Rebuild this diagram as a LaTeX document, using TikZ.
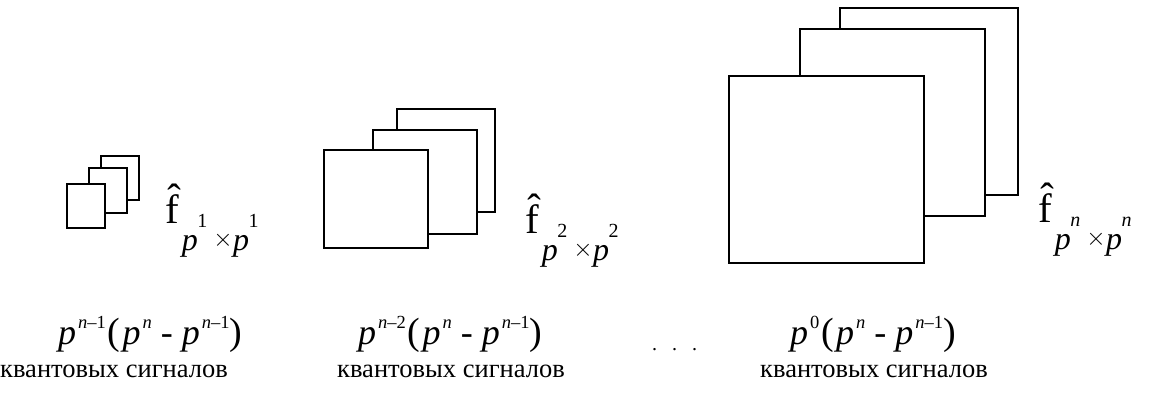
\documentclass[tikz,border=0pt]{standalone}
\usepackage{fontspec}
\setmainfont{Liberation Serif}
\usetikzlibrary{positioning}

% upright f with hat and a low subscript p^k x p^k
\newcommand{\supsz}{\fontsize{18.5}{18.5}\selectfont}
\newcommand{\lblsz}{\fontsize{20}{20}\selectfont}
\newcommand{\fhat}[1]{\^{f}\hspace{3pt}\raisebox{-27pt}{\fontsize{32}{32}\selectfont
  \textit{p}\hspace{-0.5pt}\raisebox{23pt}{\lblsz#1}\hspace{6pt}\raisebox{4pt}{\fontsize{24}{24}\selectfont$\times$}\hspace{0.5pt}\textit{p}\hspace{-0.5pt}\raisebox{23pt}{\lblsz#1}}}
% p^k (p^n - p^(n-1))
\newcommand{\pw}[1]{\textit{p}\hspace{2pt}\raisebox{16pt}{\supsz#1}}
\newcommand{\cnt}[1]{\pw{#1}\hspace{2pt}{\fontsize{38}{38}\selectfont(}\hspace{2pt}\pw{\textit{n}} - \pw{\textit{n}–1}{\fontsize{38}{38}\selectfont)}}

\begin{document}
\begin{tikzpicture}[x=1pt,y=-1pt,
sheet/.style={draw, line width=1.6pt, fill=white, anchor=north west, inner sep=0pt},
flabel/.style={anchor=base west, inner sep=0pt, font=\fontsize{41}{41}\selectfont},
count/.style={anchor=base west, inner sep=0pt, font=\fontsize{36}{36}\selectfont},
caption/.style={anchor=base west, inner sep=0pt, font=\fontsize{26.5}{26.5}\selectfont}
]
\useasboundingbox (0,0) rectangle (1150,392);

% first stack
\node[sheet, minimum width=38pt, minimum height=44pt] (a3) at (100,155) {};
\node[sheet, minimum width=38pt, minimum height=45pt] (a2) at (88,167) {};
\node[sheet, minimum width=38pt, minimum height=44pt] (a1) at (66,183) {};
\node[flabel] (fa) at (165,223) {\fhat{1}};

% second stack
\node[sheet, minimum width=98pt, minimum height=103pt] (b3) at (396,108) {};
\node[sheet, minimum width=104pt, minimum height=104pt] (b2) at (372,129) {};
\node[sheet, minimum width=104pt, minimum height=98pt] (b1) at (323,149) {};
\node[flabel] (fb) at (525,233) {\fhat{2}};

% last stack
\node[sheet, minimum width=178pt, minimum height=187pt] (c3) at (839,7) {};
\node[sheet, minimum width=185pt, minimum height=187pt] (c2) at (799,28) {};
\node[sheet, minimum width=195pt, minimum height=187pt] (c1) at (728,75) {};
\node[flabel] (fc) at (1038,222) {\fhat{\textit{n}}};

% counts
\node[count] (na) at (58,344) {\cnt{\textit{n}–1}};
\node[count] (nb) at (358,344) {\cnt{\textit{n}–2}};
\node[anchor=base west, inner sep=0pt, font=\fontsize{20}{20}\selectfont] (dots) at (652,350) {.\hspace{15pt}.\hspace{15pt}.};
\node[count] (nc) at (790,344) {\cnt{0}};
\node[caption] (ta) at (0,377) {квантовых сигналов};
\node[caption] (tb) at (337,377) {квантовых сигналов};
\node[caption] (tc) at (760,377) {квантовых сигналов};
\end{tikzpicture}
\end{document}
